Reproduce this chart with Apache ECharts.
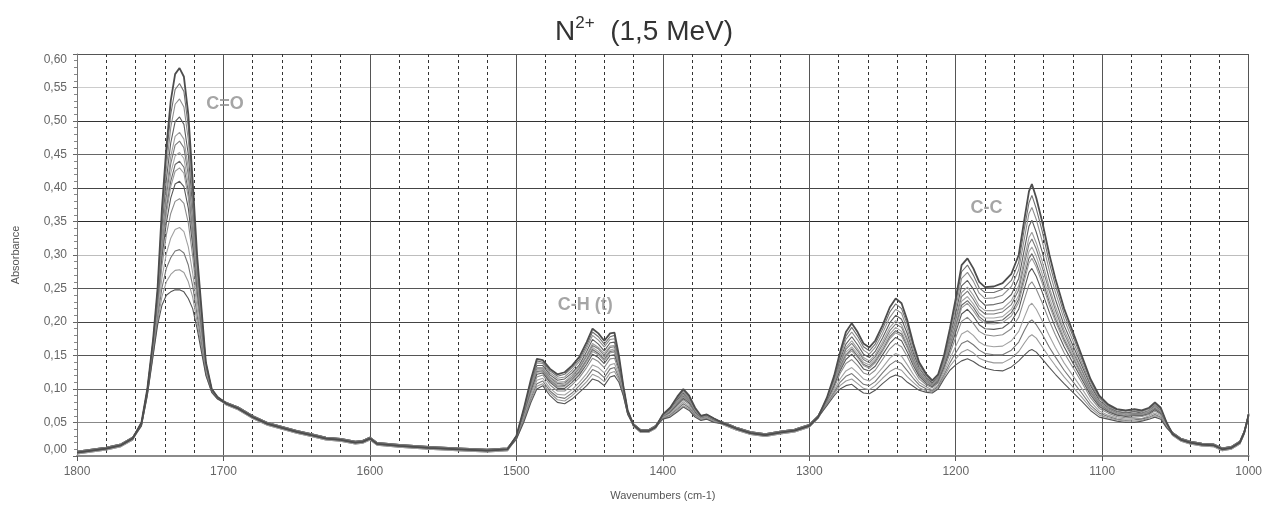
<!DOCTYPE html>
<html>
<head>
<meta charset="utf-8">
<script src="https://cdn.jsdelivr.net/npm/echarts@6/dist/echarts.min.js"></script>
<style>
  html, body { margin: 0; padding: 0; background: #fff; }
  #chart { width: 1265px; height: 506px; }
</style>
</head>
<body>
<div id="chart"></div>
<script>
// Wavenumber grid (cm-1), shared by every spectrum
const wavenumbers = [1800,1790,1780,1770,1762,
  1756,1752,1748,1745,1742,1739,1736,1733,1730,1727,1724,1721,1718,1715,1712,1708,1704,
  1698,1690,1680,1670,1660,1650,1640,1630,1620,1610,1605,1600,1595,1580,1560,1540,1520,1506,
  1500,1495,1490,1486,1482,1477,1472,1467,1462,1457,1452,1448,1444,1440,1436,1433,1430,1427,1424,
  1420,1415,1410,1405,
  1400,1395,1390,1386,1382,1378,1374,1370,1365,
  1358,1350,1340,1330,1320,1310,1300,1294,
  1288,1283,1279,1275,1271,1267,1263,1259,1255,1250,1245,1241,1237,1233,1229,1225,1220,1216,1212,1208,
  1204,1200,1196,1192,1188,1184,1180,1174,1168,1162,1157,1153,1150,1148,1145,1141,1136,1132,1126,1120,
  1114,1108,1102,1096,1090,1084,1078,1073,1068,1064,1060,1056,
  1052,1046,1040,1032,1024,1018,1012,1006,1003,1001,1000];

// Absorbance of each spectrum, one value per wavenumber
const spectrum01 = [.005,.008,.011,.016,.026,
  .050,.100,.175,.250,.370,.460,.530,.570,.579,.566,.510,.410,.300,.220,.140,.100,.088,
  .078,.071,.058,.048,.042,.036,.031,.026,.024,.020,.021,.026,.018,.015,.012,.010,.008,.010,
  .030,.070,.115,.145,.143,.130,.122,.125,.135,.148,.170,.190,.183,.172,.183,.184,.150,.105,.068,
  .046,.037,.037,.043,
  .062,.072,.089,.100,.090,.072,.060,.062,.056,
  .048,.041,.034,.031,.035,.038,.045,.058,
  .087,.120,.155,.185,.198,.185,.168,.162,.172,.195,.222,.235,.228,.202,.168,.140,.122,.113,.122,.150,
  .190,.235,.285,.295,.280,.260,.252,.253,.258,.272,.300,.355,.395,.406,.385,.350,.300,.265,.220,.185,
  .150,.115,.090,.077,.070,.068,.070,.068,.072,.080,.072,.050,
  .033,.024,.020,.017,.016,.010,.012,.020,.035,.052,.062];
const spectrum02 = [.006,.009,.012,.017,.027,
  .050,.099,.173,.246,.360,.445,.510,.547,.556,.544,.491,.397,.292,.215,.139,.100,.088,
  .079,.072,.059,.049,.043,.037,.032,.027,.025,.021,.022,.027,.019,.016,.013,.011,.009,.011,
  .030,.069,.113,.142,.140,.127,.119,.122,.132,.144,.165,.185,.178,.167,.178,.180,.147,.104,.068,
  .047,.038,.038,.044,
  .062,.071,.087,.098,.088,.071,.060,.062,.056,
  .049,.042,.035,.032,.036,.039,.046,.059,
  .086,.118,.151,.179,.192,.179,.163,.157,.167,.189,.215,.227,.220,.196,.164,.137,.120,.112,.120,.148,
  .186,.228,.275,.285,.270,.251,.244,.244,.249,.262,.289,.341,.378,.389,.369,.336,.288,.255,.212,.179,
  .145,.112,.088,.075,.069,.067,.069,.067,.071,.078,.071,.049,
  .034,.025,.021,.018,.017,.011,.013,.021,.036,.053,.063];
const spectrum03 = [.004,.007,.010,.015,.025,
  .049,.099,.172,.242,.350,.429,.490,.525,.533,.521,.472,.383,.285,.211,.137,.099,.087,
  .077,.070,.057,.047,.041,.035,.030,.025,.023,.019,.020,.025,.017,.014,.011,.009,.007,.009,
  .029,.067,.110,.139,.138,.124,.116,.118,.128,.141,.161,.180,.173,.163,.174,.175,.144,.103,.067,
  .045,.036,.036,.042,
  .061,.070,.086,.096,.087,.070,.059,.061,.055,
  .047,.040,.033,.030,.034,.037,.044,.057,
  .085,.116,.147,.174,.185,.173,.158,.152,.162,.183,.207,.219,.213,.189,.159,.134,.118,.110,.119,.145,
  .181,.221,.265,.274,.261,.243,.235,.236,.240,.253,.278,.326,.362,.371,.353,.321,.276,.245,.204,.172,
  .140,.108,.086,.074,.067,.065,.067,.066,.070,.077,.070,.049,
  .032,.023,.019,.016,.015,.009,.011,.019,.034,.051,.061];
const spectrum04 = [.007,.010,.013,.018,.028,
  .049,.098,.170,.238,.338,.412,.467,.499,.506,.495,.450,.368,.276,.206,.136,.099,.087,
  .080,.073,.060,.050,.044,.038,.033,.028,.026,.022,.023,.028,.020,.017,.014,.012,.010,.012,
  .029,.066,.107,.135,.135,.121,.113,.115,.124,.136,.156,.174,.167,.157,.169,.170,.141,.102,.067,
  .048,.039,.039,.045,
  .060,.069,.084,.094,.085,.069,.058,.060,.055,
  .050,.043,.036,.033,.037,.040,.047,.060,
  .084,.113,.143,.167,.178,.166,.152,.147,.156,.176,.199,.210,.204,.182,.154,.131,.116,.109,.117,.142,
  .176,.213,.254,.262,.249,.233,.225,.226,.229,.241,.265,.310,.343,.352,.334,.305,.263,.234,.195,.165,
  .135,.105,.083,.072,.066,.064,.066,.064,.068,.075,.068,.048,
  .035,.026,.022,.019,.018,.012,.014,.022,.037,.054,.064];
const spectrum05 = [.005,.008,.011,.016,.026,
  .049,.097,.168,.234,.328,.396,.447,.477,.483,.473,.430,.355,.268,.201,.134,.099,.087,
  .078,.071,.058,.048,.042,.036,.031,.026,.024,.020,.021,.026,.018,.015,.012,.010,.008,.010,
  .029,.064,.105,.132,.132,.118,.110,.111,.121,.133,.151,.168,.162,.153,.164,.165,.138,.101,.066,
  .046,.037,.037,.043,
  .060,.068,.082,.092,.084,.068,.058,.060,.054,
  .048,.041,.034,.031,.035,.038,.045,.058,
  .084,.111,.139,.162,.172,.160,.147,.142,.151,.170,.192,.202,.196,.175,.149,.128,.114,.107,.116,.140,
  .172,.206,.244,.252,.240,.224,.217,.217,.220,.232,.254,.296,.326,.334,.318,.291,.251,.224,.188,.159,
  .130,.101,.081,.071,.065,.063,.064,.063,.067,.074,.067,.048,
  .033,.024,.020,.017,.016,.010,.012,.020,.035,.052,.062];
const spectrum06 = [.003,.006,.009,.014,.024,
  .048,.097,.167,.232,.322,.387,.436,.464,.470,.460,.419,.347,.264,.199,.133,.098,.087,
  .076,.069,.056,.046,.040,.034,.029,.024,.022,.018,.019,.024,.016,.013,.010,.008,.006,.008,
  .028,.063,.103,.130,.130,.117,.108,.109,.118,.131,.149,.165,.160,.150,.162,.163,.137,.100,.066,
  .044,.035,.035,.041,
  .060,.067,.081,.091,.083,.067,.058,.060,.054,
  .046,.039,.032,.029,.033,.036,.043,.056,
  .083,.110,.137,.159,.168,.157,.144,.139,.148,.166,.187,.197,.192,.172,.147,.126,.113,.107,.115,.138,
  .170,.202,.238,.246,.234,.219,.212,.212,.215,.226,.248,.288,.316,.324,.309,.282,.245,.218,.183,.155,
  .128,.099,.079,.070,.064,.062,.063,.063,.066,.073,.066,.047,
  .031,.022,.018,.015,.014,.008,.010,.018,.033,.050,.060];
const spectrum07 = [.006,.009,.012,.017,.027,
  .048,.096,.166,.229,.315,.376,.422,.448,.453,.444,.406,.338,.258,.195,.132,.098,.087,
  .079,.072,.059,.049,.043,.037,.032,.027,.025,.021,.022,.027,.019,.016,.013,.011,.009,.011,
  .028,.062,.102,.128,.129,.115,.106,.107,.116,.128,.145,.162,.156,.147,.158,.160,.135,.099,.066,
  .047,.038,.038,.044,
  .059,.067,.080,.090,.082,.067,.057,.059,.054,
  .049,.042,.035,.032,.036,.039,.046,.059,
  .082,.109,.134,.155,.163,.153,.140,.136,.144,.162,.182,.192,.186,.167,.144,.124,.112,.106,.114,.137,
  .166,.197,.231,.238,.227,.213,.206,.206,.208,.219,.240,.277,.305,.312,.298,.272,.236,.211,.177,.151,
  .124,.097,.078,.069,.063,.061,.062,.062,.066,.072,.066,.047,
  .034,.025,.021,.018,.017,.011,.013,.021,.036,.053,.063];
const spectrum08 = [.007,.010,.013,.018,.028,
  .048,.096,.165,.227,.309,.368,.410,.435,.440,.431,.395,.330,.254,.193,.132,.098,.087,
  .080,.073,.060,.050,.044,.038,.033,.028,.026,.022,.023,.028,.020,.017,.014,.012,.010,.012,
  .028,.062,.100,.126,.127,.113,.104,.105,.114,.126,.143,.159,.153,.144,.156,.157,.133,.099,.065,
  .048,.039,.039,.045,
  .059,.066,.079,.089,.081,.066,.057,.059,.053,
  .050,.043,.036,.033,.037,.040,.047,.060,
  .082,.107,.132,.151,.160,.149,.137,.133,.141,.158,.178,.187,.182,.163,.141,.122,.111,.105,.113,.135,
  .164,.193,.225,.232,.222,.208,.201,.201,.203,.214,.234,.269,.295,.302,.288,.264,.229,.205,.173,.147,
  .121,.095,.077,.068,.062,.060,.062,.061,.065,.071,.065,.047,
  .035,.026,.022,.019,.018,.012,.014,.022,.037,.054,.064];
const spectrum09 = [.004,.007,.010,.015,.025,
  .048,.096,.164,.225,.305,.361,.402,.425,.430,.422,.386,.325,.251,.191,.131,.098,.087,
  .077,.070,.057,.047,.041,.035,.030,.025,.023,.019,.020,.025,.017,.014,.011,.009,.007,.009,
  .028,.061,.099,.125,.126,.112,.103,.104,.113,.124,.141,.156,.151,.142,.154,.155,.132,.098,.065,
  .045,.036,.036,.042,
  .059,.066,.079,.088,.080,.066,.057,.059,.053,
  .047,.040,.033,.030,.034,.037,.044,.057,
  .082,.107,.130,.149,.157,.147,.135,.131,.139,.156,.175,.184,.179,.161,.139,.121,.110,.104,.112,.134,
  .162,.190,.221,.228,.217,.204,.198,.197,.199,.209,.229,.263,.288,.295,.282,.258,.224,.201,.170,.145,
  .119,.094,.076,.067,.062,.060,.061,.061,.064,.070,.064,.046,
  .032,.023,.019,.016,.015,.009,.011,.019,.034,.051,.061];
const spectrum10 = [.005,.008,.011,.016,.026,
  .047,.095,.162,.222,.296,.348,.385,.406,.410,.402,.370,.313,.244,.187,.130,.097,.086,
  .078,.071,.058,.048,.042,.036,.031,.026,.024,.020,.021,.026,.018,.015,.012,.010,.008,.010,
  .027,.060,.097,.122,.124,.110,.101,.101,.110,.121,.137,.152,.147,.138,.150,.151,.130,.097,.065,
  .046,.037,.037,.043,
  .058,.065,.077,.086,.079,.065,.056,.058,.053,
  .048,.041,.034,.031,.035,.038,.045,.058,
  .081,.105,.127,.144,.152,.142,.130,.127,.134,.151,.168,.177,.172,.155,.135,.119,.108,.103,.111,.132,
  .158,.185,.212,.219,.209,.196,.190,.189,.191,.201,.219,.251,.274,.280,.268,.245,.214,.192,.163,.139,
  .115,.091,.074,.066,.061,.059,.060,.060,.063,.069,.063,.046,
  .033,.024,.020,.017,.016,.010,.012,.020,.035,.052,.062];
const spectrum11 = [.006,.009,.012,.017,.027,
  .047,.094,.160,.218,.284,.330,.362,.380,.384,.377,.348,.298,.235,.182,.128,.097,.086,
  .079,.072,.059,.049,.043,.037,.032,.027,.025,.021,.022,.027,.019,.016,.013,.011,.009,.011,
  .027,.058,.094,.118,.121,.106,.097,.097,.106,.117,.132,.146,.141,.132,.145,.146,.126,.096,.064,
  .047,.038,.038,.044,
  .058,.064,.075,.084,.077,.064,.056,.058,.052,
  .049,.042,.035,.032,.036,.039,.046,.059,
  .080,.102,.123,.138,.144,.135,.124,.121,.128,.144,.160,.168,.163,.148,.130,.115,.106,.102,.109,.129,
  .153,.177,.201,.207,.198,.186,.181,.179,.181,.190,.207,.235,.255,.260,.249,.229,.201,.181,.154,.132,
  .110,.087,.071,.064,.059,.057,.058,.059,.062,.067,.062,.045,
  .034,.025,.021,.018,.017,.011,.013,.021,.036,.053,.063];
const spectrum12 = [.003,.006,.009,.014,.024,
  .046,.093,.157,.210,.266,.302,.325,.338,.341,.335,.312,.273,.221,.173,.126,.096,.086,
  .076,.069,.056,.046,.040,.034,.029,.024,.022,.018,.019,.024,.016,.013,.010,.008,.006,.008,
  .026,.056,.090,.113,.116,.101,.092,.091,.099,.110,.123,.136,.132,.124,.136,.138,.121,.094,.064,
  .044,.035,.035,.041,
  .057,.062,.072,.081,.074,.062,.055,.057,.052,
  .046,.039,.032,.029,.033,.036,.043,.056,
  .078,.098,.115,.127,.132,.124,.115,.112,.119,.132,.146,.153,.149,.136,.122,.110,.103,.099,.106,.125,
  .145,.164,.182,.187,.180,.170,.165,.163,.164,.172,.186,.208,.224,.228,.219,.202,.179,.162,.139,.120,
  .101,.081,.067,.061,.057,.055,.056,.056,.060,.064,.060,.044,
  .031,.022,.018,.015,.014,.008,.010,.018,.033,.050,.060];
const spectrum13 = [.007,.010,.013,.018,.028,
  .046,.092,.155,.205,.251,.280,.296,.306,.308,.303,.285,.254,.210,.167,.124,.096,.086,
  .080,.073,.060,.050,.044,.038,.033,.028,.026,.022,.023,.028,.020,.017,.014,.012,.010,.012,
  .026,.054,.086,.108,.112,.097,.088,.086,.094,.105,.117,.129,.125,.117,.130,.132,.117,.093,.063,
  .048,.039,.039,.045,
  .056,.061,.070,.078,.072,.061,.054,.056,.051,
  .050,.043,.036,.033,.037,.040,.047,.060,
  .077,.095,.110,.119,.123,.115,.107,.105,.111,.124,.136,.142,.138,.127,.116,.106,.100,.097,.104,.121,
  .139,.154,.168,.172,.166,.158,.153,.151,.151,.158,.170,.188,.200,.203,.196,.182,.162,.148,.128,.111,
  .094,.076,.064,.059,.055,.053,.054,.055,.058,.062,.058,.043,
  .035,.026,.022,.019,.018,.012,.014,.022,.037,.054,.064];
const spectrum14 = [.004,.007,.010,.015,.025,
  .045,.091,.152,.200,.238,.260,.271,.277,.278,.274,.260,.237,.200,.161,.122,.095,.085,
  .077,.070,.057,.047,.041,.035,.030,.025,.023,.019,.020,.025,.017,.014,.011,.009,.007,.009,
  .025,.052,.083,.104,.108,.094,.084,.082,.090,.100,.111,.122,.118,.111,.124,.126,.114,.091,.063,
  .045,.036,.036,.042,
  .056,.059,.068,.075,.070,.059,.054,.056,.051,
  .047,.040,.033,.030,.034,.037,.044,.057,
  .076,.093,.105,.112,.115,.108,.101,.099,.105,.116,.126,.131,.128,.118,.110,.102,.097,.096,.102,.118,
  .134,.145,.155,.159,.154,.146,.142,.139,.139,.146,.156,.169,.178,.181,.176,.163,.147,.135,.118,.103,
  .088,.072,.061,.057,.054,.052,.052,.053,.057,.060,.057,.043,
  .032,.023,.019,.016,.015,.009,.011,.019,.034,.051,.061];
const spectrum15 = [.005,.008,.011,.016,.026,
  .045,.090,.150,.195,.225,.240,.245,.248,.248,.245,.235,.220,.190,.155,.120,.095,.085,
  .078,.071,.058,.048,.042,.036,.031,.026,.024,.020,.021,.026,.018,.015,.012,.010,.008,.010,
  .025,.050,.080,.100,.105,.090,.080,.078,.085,.095,.105,.115,.112,.105,.118,.120,.110,.090,.062,
  .046,.037,.037,.043,
  .055,.058,.066,.073,.068,.058,.053,.055,.050,
  .048,.041,.034,.031,.035,.038,.045,.058,
  .075,.090,.100,.105,.107,.100,.094,.093,.098,.108,.117,.121,.118,.110,.104,.098,.095,.094,.100,.115,
  .128,.136,.142,.145,.141,.135,.131,.128,.127,.133,.142,.151,.157,.159,.155,.145,.132,.122,.108,.095,
  .082,.068,.058,.055,.052,.050,.050,.052,.055,.058,.055,.042,
  .033,.024,.020,.017,.016,.010,.012,.020,.035,.052,.062];

// Band assignments written on the plot
const bandNames = ['C=O', 'C-H (t)', 'C-C'];
const bandWavenumbers = [1699, 1453, 1179];
const bandAbsorbance = [0.526, 0.225, 0.370];

const spectra = [spectrum01, spectrum02, spectrum03, spectrum04, spectrum05,
  spectrum06, spectrum07, spectrum08, spectrum09, spectrum10,
  spectrum11, spectrum12, spectrum13, spectrum14, spectrum15];

const lineColors = ['#4d4d4d', '#707070', '#8e8e8e', '#5e5e5e', '#9c9c9c',
  '#7a7a7a', '#a6a6a6', '#686868', '#9a9a9a', '#585858',
  '#8c8c8c', '#a2a2a2', '#777777', '#9a9a9a', '#555555'];

const font = '"Liberation Sans", Arial, sans-serif';

const series = spectra.map((vals, i) => ({
  type: 'line',
  data: wavenumbers.map((w, k) => [w, vals[k]]),
  symbol: 'none',
  smooth: false,
  silent: true,
  z: i === 0 ? 4 : 3,
  lineStyle: { width: i === 0 ? 1.8 : 1.1, color: lineColors[i] }
}));

series.push({
  type: 'scatter',
  silent: true,
  z: 6,
  symbolSize: 1,
  itemStyle: { color: 'rgba(0,0,0,0)' },
  data: bandNames.map((n, i) => ({ name: n, value: [bandWavenumbers[i], bandAbsorbance[i]] })),
  label: {
    show: true, position: 'inside', formatter: '{b}',
    fontFamily: font, fontSize: 18, fontWeight: 'bold', color: '#8f8f8f'
  }
});

const chart = echarts.init(document.getElementById('chart'), null, { renderer: 'canvas' });
chart.setOption({
  animation: false,
  backgroundColor: '#ffffff',
  title: {
    text: '{n|N}{s|2+}{n|  (1,5 MeV)}',
    left: 550,
    top: 10,
    textStyle: {
      fontWeight: 'normal',
      rich: {
        n: { fontFamily: font, fontSize: 28, fontWeight: 'normal', color: '#333', lineHeight: 34 },
        s: { fontFamily: font, fontSize: 17, fontWeight: 'normal', color: '#333', lineHeight: 20, verticalAlign: 'top' }
      }
    }
  },
  grid: { left: 77, right: 11, top: 54, bottom: 47, containLabel: false },
  xAxis: {
    type: 'value', min: 1000, max: 1800, interval: 100, inverse: true,
    name: 'Wavenumbers (cm-1)', nameLocation: 'middle', nameGap: 34,
    nameTextStyle: { fontFamily: font, fontSize: 11, color: '#555' },
    axisLine: { show: true, onZero: false, lineStyle: { color: '#8a8a8a', width: 2 } },
    axisTick: { show: true, length: 5, lineStyle: { color: '#555' } },
    axisLabel: { fontFamily: font, fontSize: 12, color: '#666', margin: 10, formatter: v => String(v) },
    splitLine: { show: true, lineStyle: { color: '#555', width: 1 } },
    minorTick: { show: false, splitNumber: 5 },
    minorSplitLine: { show: true, lineStyle: { color: '#333', width: 1, type: [3, 3] } }
  },
  yAxis: {
    type: 'value', min: 0, max: 0.6, interval: 0.05,
    name: 'Absorbance', nameLocation: 'middle', nameGap: 56, nameRotate: 90,
    nameTextStyle: { fontFamily: font, fontSize: 11, color: '#555' },
    axisLine: { show: true, lineStyle: { color: '#777' } },
    axisTick: { show: true, length: 4, lineStyle: { color: '#666' } },
    minorTick: { show: true, splitNumber: 5, length: 3, lineStyle: { color: '#888' } },
    axisLabel: {
      fontFamily: font, fontSize: 12, color: '#666', margin: 10,
      formatter: v => v.toFixed(2).replace('.', ','),
      verticalAlignMinLabel: 'bottom', verticalAlignMaxLabel: 'top'
    },
    splitLine: {
      show: true,
      lineStyle: {
        width: 1,
        color: ['#888', '#888', '#666', '#555', '#444', '#555', '#bdbdbd',
                '#2a2a2a', '#444', '#666', '#333', '#cccccc', '#555']
      }
    }
  },
  series: series
});
</script>
</body>
</html>
